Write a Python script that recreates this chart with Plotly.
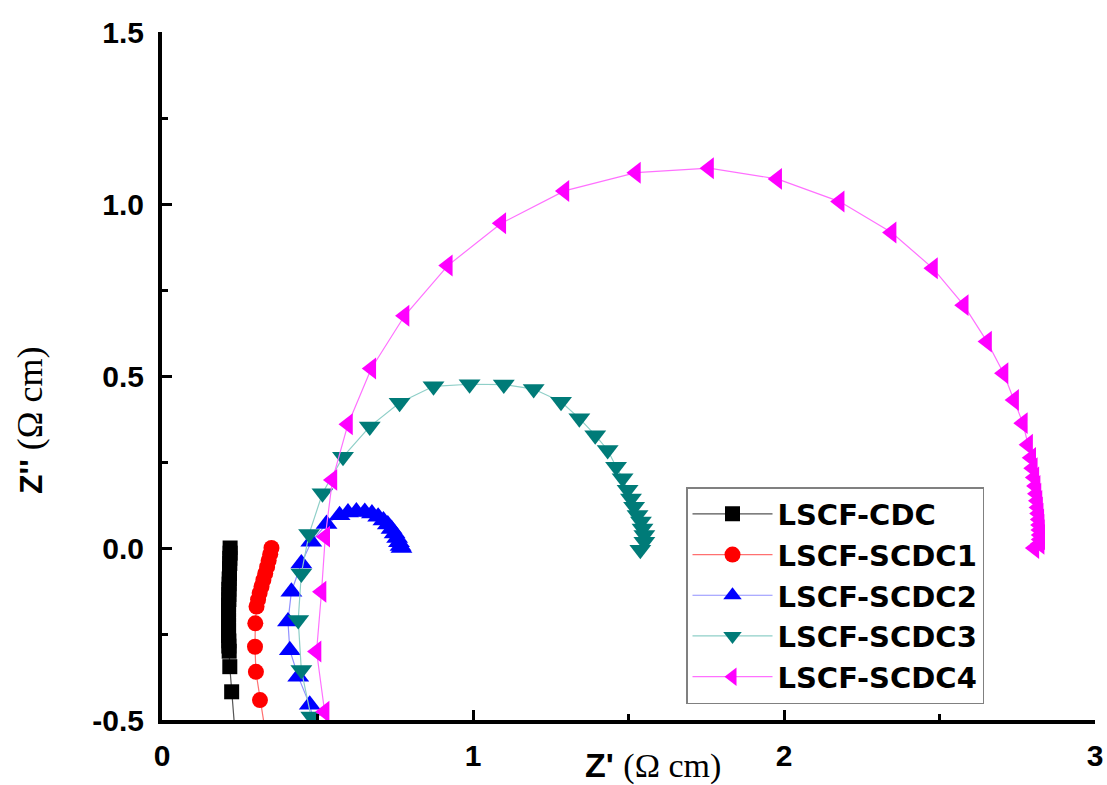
import plotly.graph_objects as go

# ---------------- data ----------------
cdc_x = [0.219, 0.219, 0.218, 0.218, 0.217, 0.217, 0.216, 0.216, 0.215, 0.215, 0.215, 0.214,
         0.214, 0.214, 0.214, 0.214, 0.214, 0.214, 0.215, 0.215, 0.216, 0.218, 0.224, 0.236]
cdc_y = [0.000, -0.015, -0.030, -0.045, -0.060, -0.075, -0.090, -0.105, -0.120, -0.135, -0.150, -0.165,
         -0.180, -0.195, -0.210, -0.225, -0.240, -0.255, -0.270, -0.285, -0.300, -0.345, -0.418, -0.550]

scdc1_x = [0.352, 0.348, 0.343, 0.338, 0.332, 0.326, 0.320, 0.314, 0.309, 0.304, 0.300, 0.299,
           0.302, 0.315, 0.335]
scdc1_y = [0.000, -0.018, -0.036, -0.055, -0.074, -0.093, -0.112, -0.131, -0.150, -0.170, -0.219, -0.287,
           -0.360, -0.442, -0.550]

scdc2_x = [0.500, 0.475, 0.438, 0.411, 0.405, 0.416, 0.448, 0.480, 0.529, 0.571, 0.598, 0.625,
           0.652, 0.675, 0.695, 0.712, 0.726, 0.738, 0.748, 0.756, 0.762, 0.767, 0.770]
scdc2_y = [-0.550, -0.456, -0.374, -0.297, -0.214, -0.127, -0.045, 0.018, 0.070, 0.095, 0.103, 0.106,
           0.105, 0.100, 0.091, 0.080, 0.068, 0.055, 0.042, 0.029, 0.017, 0.006, 0.000]

scdc3_x = [0.500, 0.480, 0.448, 0.438, 0.448, 0.473, 0.516, 0.582, 0.668, 0.764, 0.873, 0.989,
           1.099, 1.195, 1.283, 1.342, 1.393, 1.433, 1.460, 1.481, 1.497, 1.508, 1.518, 1.529,
           1.540, 1.545, 1.551, 1.551, 1.538]
scdc3_y = [-0.580, -0.490, -0.355, -0.209, -0.074, 0.041, 0.159, 0.265, 0.353, 0.422, 0.470, 0.476,
           0.475, 0.462, 0.425, 0.377, 0.328, 0.285, 0.236, 0.203, 0.169, 0.144, 0.120, 0.096,
           0.077, 0.057, 0.038, 0.018, -0.005]

scdc4_x = [0.545, 0.523, 0.497, 0.513, 0.525, 0.548, 0.598, 0.673, 0.780, 0.919, 1.091, 1.294,
           1.524, 1.759, 1.978, 2.179, 2.346, 2.479, 2.578, 2.653, 2.706, 2.740, 2.768, 2.785,
           2.795, 2.800, 2.805, 2.809, 2.812, 2.815, 2.817, 2.819, 2.821, 2.822, 2.823, 2.824,
           2.824, 2.822, 2.805]
scdc4_y = [-0.600, -0.476, -0.301, -0.127, 0.033, 0.198, 0.360, 0.522, 0.675, 0.821, 0.944, 1.038,
           1.091, 1.104, 1.073, 1.007, 0.917, 0.813, 0.706, 0.600, 0.508, 0.430, 0.363, 0.300,
           0.262, 0.232, 0.205, 0.180, 0.158, 0.137, 0.118, 0.100, 0.083, 0.067, 0.052, 0.038,
           0.025, 0.012, 0.000]

series_names = ["LSCF-CDC", "LSCF-SCDC1", "LSCF-SCDC2", "LSCF-SCDC3", "LSCF-SCDC4"]
x_tick_vals = [0, 1, 2, 3]
x_tick_text = ["0", "1", "2", "3"]
y_tick_vals = [-0.5, 0.0, 0.5, 1.0, 1.5]
y_tick_text = ["-0.5", "0.0", "0.5", "1.0", "1.5"]

# ---------------- styles ----------------
FONT = "Liberation Sans, Arial, sans-serif"
LEGEND_FONT = "DejaVu Sans, Liberation Sans, sans-serif"
styles = [
    dict(symbol="square", size=15, mcolor="#000000", lcolor="#555555"),
    dict(symbol="circle", size=16, mcolor="#ff0000", lcolor="#ff7070"),
    dict(symbol="triangle-up", size=19, mcolor="#0000ff", lcolor="#9090ff"),
    dict(symbol="triangle-down", size=19, mcolor="#007b78", lcolor="#8fcfc8"),
    dict(symbol="triangle-left", size=19, mcolor="#ff00ff", lcolor="#ff70ff"),
]
xs = [cdc_x, scdc1_x, scdc2_x, scdc3_x, scdc4_x]
ys = [cdc_y, scdc1_y, scdc2_y, scdc3_y, scdc4_y]

fig = go.Figure()
for name, x, y, st in zip(series_names, xs, ys, styles):
    fig.add_trace(go.Scatter(
        x=x, y=y, name=name, mode="lines+markers",
        line=dict(color=st["lcolor"], width=1.2),
        marker=dict(symbol=st["symbol"], size=st["size"], color=st["mcolor"],
                    line=dict(width=0)),
    ))

axis_common = dict(
    showgrid=False, zeroline=False, showline=True, linecolor="black", linewidth=4,
    ticks="inside", ticklen=10, tickwidth=3, tickcolor="black", mirror=False,
    automargin=False,
    tickfont=dict(family=FONT, size=30, color="black", weight="bold"),
)
fig.update_xaxes(range=[0, 3], tickvals=x_tick_vals, ticktext=x_tick_text,
                 minor=dict(tickvals=[0.5, 1.5, 2.5], ticks="inside", ticklen=6, tickwidth=3,
                            tickcolor="black"),
                 ticklabelstandoff=6, **axis_common)
fig.update_yaxes(range=[-0.5, 1.5], tickvals=y_tick_vals, ticktext=y_tick_text,
                 minor=dict(tickvals=[-0.25, 0.25, 0.75, 1.25], ticks="inside", ticklen=6,
                            tickwidth=3, tickcolor="black"),
                 ticklabelstandoff=8, **axis_common)

fig.update_layout(
    width=1107, height=785,
    margin=dict(l=162, r=12, t=32, b=65),
    plot_bgcolor="white", paper_bgcolor="white",
    showlegend=True,
    legend=dict(
        x=(686 - 162) / 933, y=(720 - 487) / 688, xanchor="left", yanchor="top",
        bgcolor="white", bordercolor="#808080", borderwidth=1.5,
        font=dict(family=LEGEND_FONT, size=29, color="black", weight="bold"),
        itemwidth=80, tracegroupgap=0,
    ),
    annotations=[
        dict(xref="paper", yref="paper", x=(653 - 162) / 933, y=(720 - 765) / 688,
             xanchor="center", yanchor="middle", showarrow=False,
             text="<b>Z'</b> <span style=\"font-family:Liberation Serif;font-weight:normal\">(Ω cm)</span>",
             font=dict(family=FONT, size=34, color="black")),
        dict(xref="paper", yref="paper", x=(30 - 162) / 933, y=(720 - 421) / 688,
             xanchor="center", yanchor="middle", showarrow=False, textangle=-90,
             text="<b>Z''</b> <span style=\"font-family:Liberation Serif;font-weight:normal;font-size:36px\">(Ω cm)</span>",
             font=dict(family=FONT, size=32, color="black")),
    ],
)

# remove the page's default body margin so the figure fills the window exactly
fig.write_html("out.html",
               config={"displayModeBar": False},
               post_script="document.body.style.margin='0';document.body.style.overflow='hidden';")
